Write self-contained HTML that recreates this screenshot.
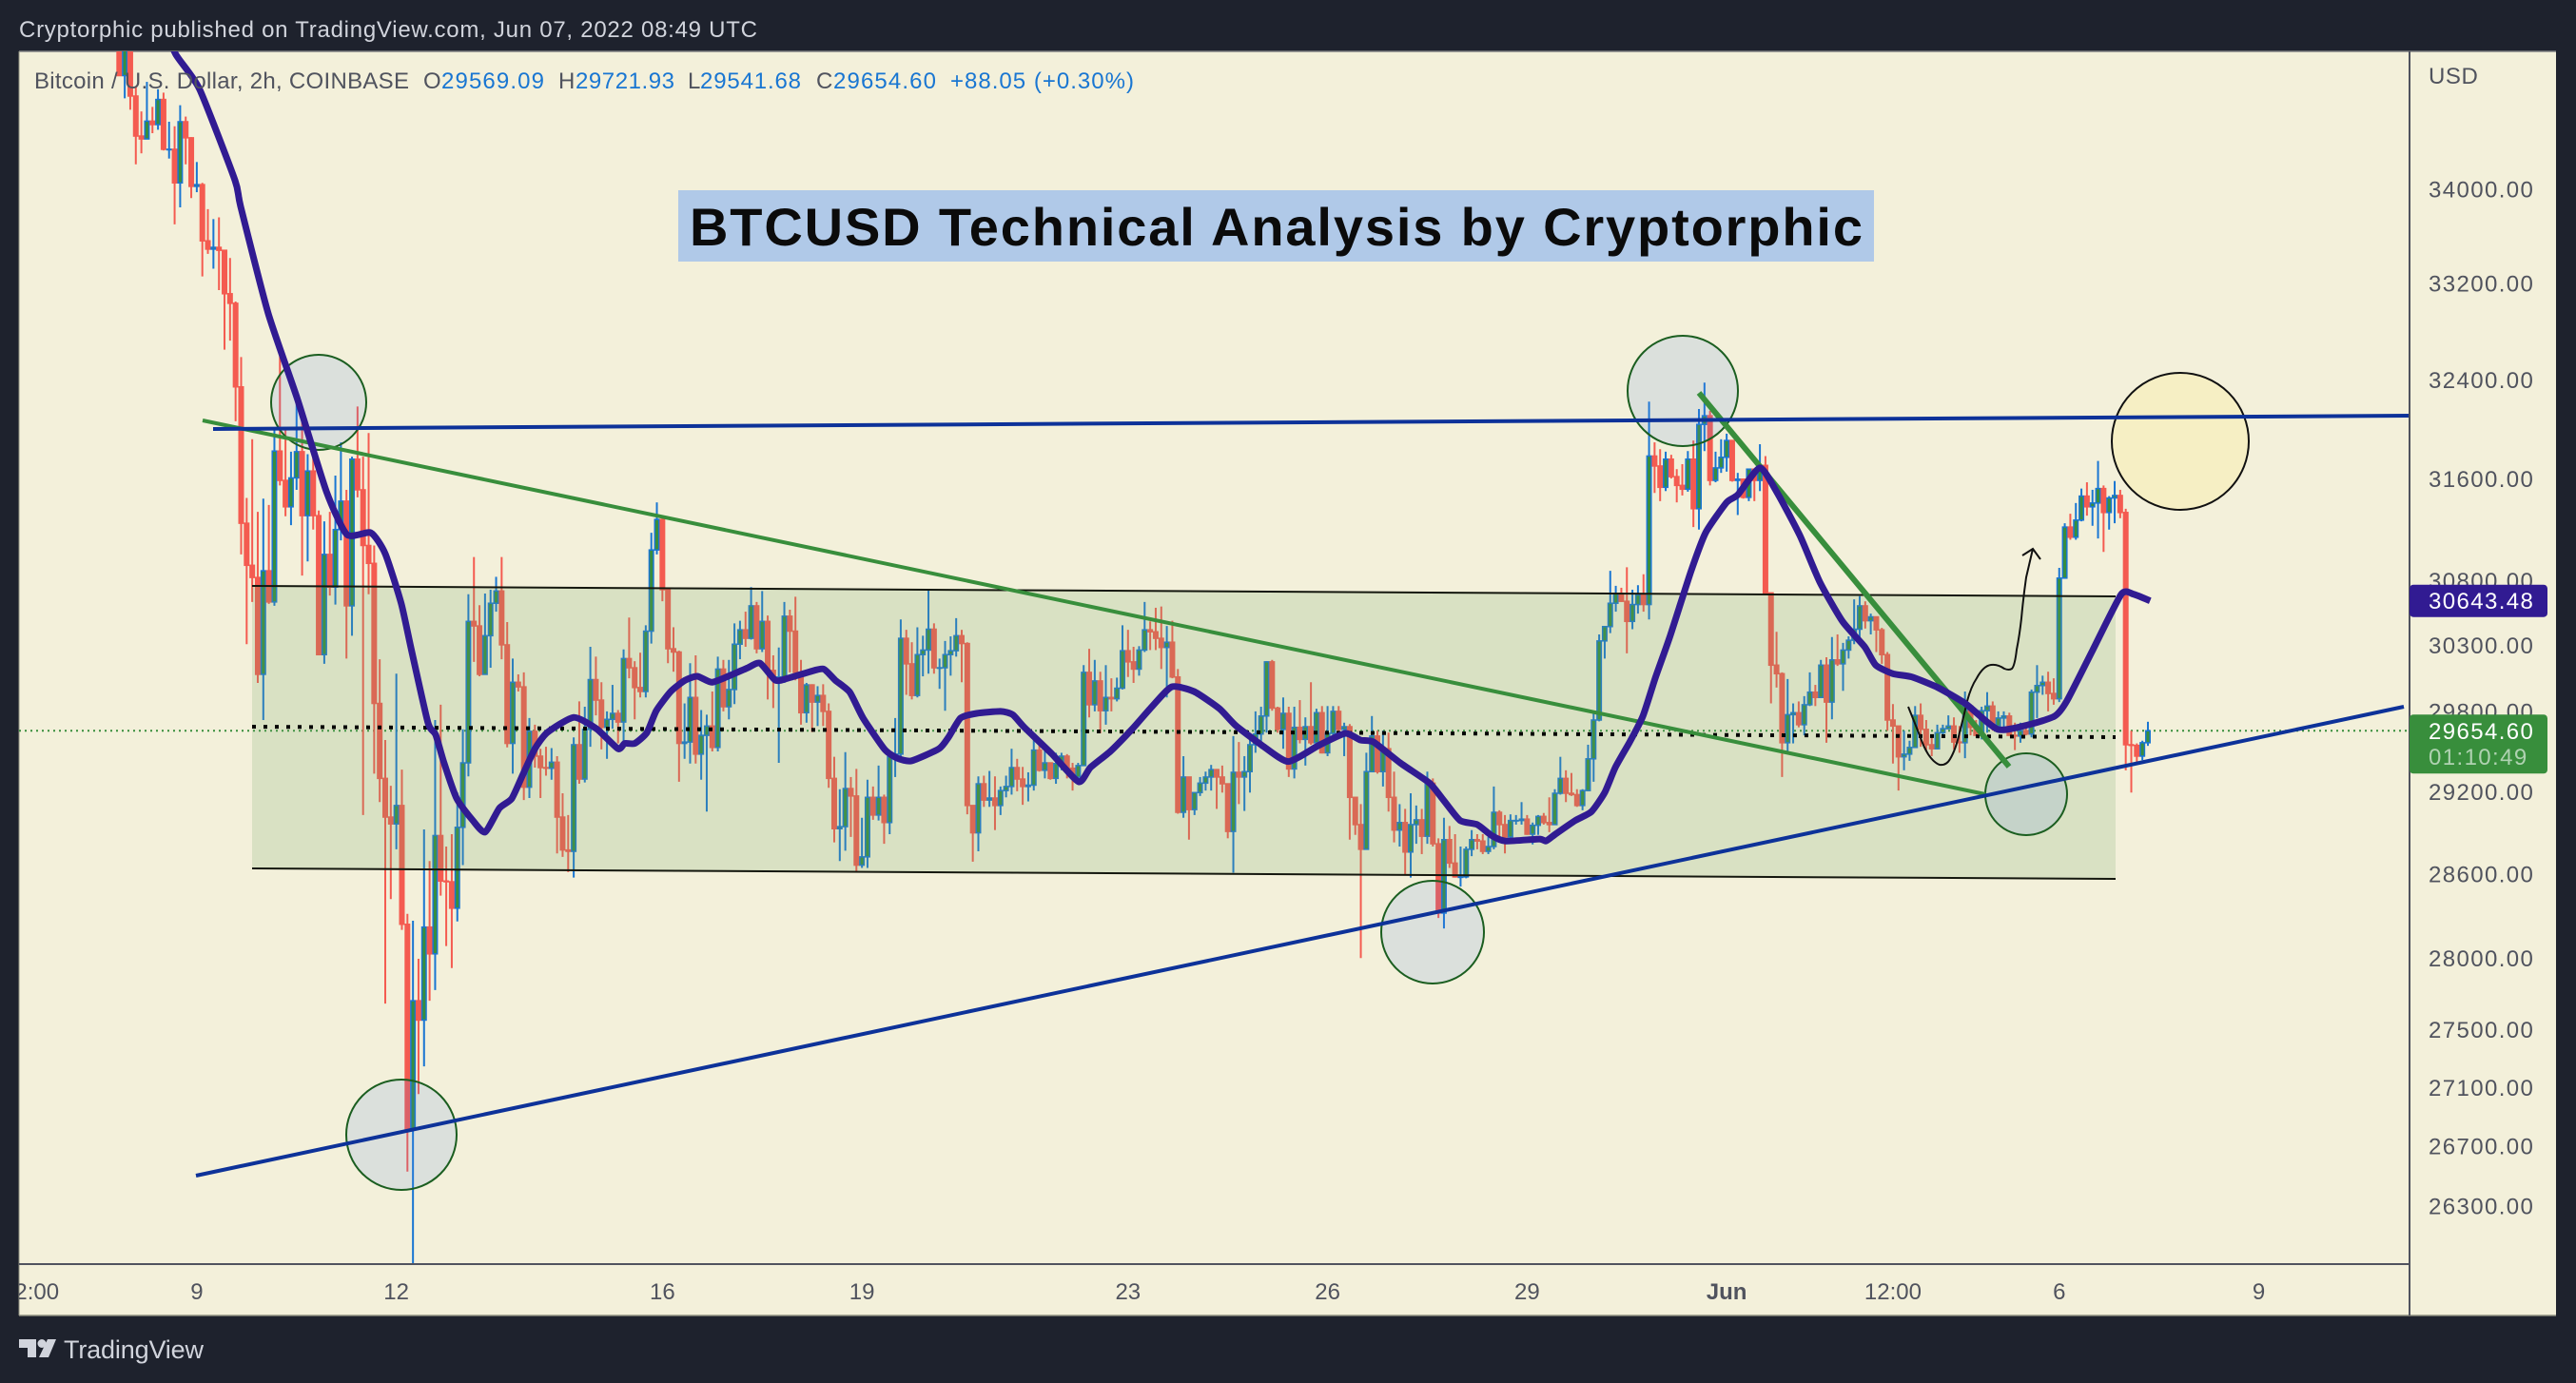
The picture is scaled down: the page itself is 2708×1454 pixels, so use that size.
<!DOCTYPE html>
<html lang="en">
<head>
<meta charset="utf-8">
<title>BTCUSD Technical Analysis by Cryptorphic</title>
<style>
html,body{margin:0;padding:0;background:#1e222d;width:2708px;height:1454px;overflow:hidden}
svg{display:block}
text{font-family:"Liberation Sans",sans-serif}
</style>
</head>
<body>
<svg id="chart" width="2708" height="1454" viewBox="0 0 2708 1454" xmlns="http://www.w3.org/2000/svg">
  <defs>
    <clipPath id="plot-clip"><rect x="20" y="54" width="2513" height="1275"/></clipPath>
    <clipPath id="time-clip"><rect x="20" y="1331" width="2513" height="52"/></clipPath>
  </defs>
  <rect x="0" y="0" width="2708" height="1454" fill="#1e222d"/>
  <rect x="20" y="54" width="2667" height="1329" fill="#f3f0da"/>
  <line x1="20" y1="54" x2="2687" y2="54" stroke="#7c7e80" stroke-width="1.5"/>
  <line x1="20" y1="1383" x2="2687" y2="1383" stroke="#8f9080" stroke-width="1.5"/>
  <line x1="20" y1="54" x2="20" y2="1383" stroke="#8f9080" stroke-width="1"/>

  <g clip-path="url(#plot-clip)">
    <line id="last-price-line" x1="20" x2="2533" stroke="#388e3c" stroke-width="2" stroke-dasharray="2 4"/>
    <g id="candles"></g>
    <circle cx="2292" cy="464" r="72" fill="#f6efc4" stroke="#111" stroke-width="2"/>
    <polygon points="265,616 2224,627 2224,924 265,913" fill="rgba(113,165,103,0.2)"/>
    <line x1="265" y1="616" x2="2224" y2="627" stroke="#14170e" stroke-width="2"/>
    <line x1="265" y1="913" x2="2224" y2="924" stroke="#14170e" stroke-width="2"/>
    <line x1="265" y1="764" x2="2224" y2="775" stroke="#000" stroke-width="4" stroke-dasharray="4 8"/>
    <circle cx="335" cy="423" r="50" fill="rgba(90,133,238,0.15)" stroke="#1b5e20" stroke-width="2"/>
    <circle cx="422" cy="1193" r="58" fill="rgba(90,133,238,0.15)" stroke="#1b5e20" stroke-width="2"/>
    <circle cx="1506" cy="980" r="54" fill="rgba(90,133,238,0.15)" stroke="#1b5e20" stroke-width="2"/>
    <circle cx="1769" cy="411" r="58" fill="rgba(90,133,238,0.15)" stroke="#1b5e20" stroke-width="2"/>
    <circle cx="2130" cy="835" r="43" fill="rgba(90,133,238,0.15)" stroke="#1b5e20" stroke-width="2"/>
    <line x1="213" y1="442" x2="2087" y2="835" stroke="#388e3c" stroke-width="4"/>
    <line x1="1786" y1="413" x2="2112" y2="806" stroke="#388e3c" stroke-width="6"/>
    <line x1="224" y1="451" x2="2533" y2="437" stroke="#0d3299" stroke-width="4"/>
    <line x1="206" y1="1236" x2="2527" y2="743" stroke="#0d3299" stroke-width="4"/>
    <path d="M2006 743 Q2012 758 2018 773 Q2022 785 2027 793 Q2033 802 2039 804 Q2046 805 2050 798 Q2056 788 2060 770 Q2064 755 2068 737 Q2072 722 2078 713 Q2085 700 2093 699 Q2100 698 2107 703 Q2112 705 2115 703 Q2118 700 2120 683 Q2123 668 2125 650 Q2127 628 2130 607 L2137 577" fill="none" stroke="#111" stroke-width="2"/>
    <path d="M2126 584 L2137 577 L2145 588" fill="none" stroke="#111" stroke-width="2"/>
    <path id="ma-line" fill="none" stroke="#311b92" stroke-width="7" stroke-linejoin="round"/>
  </g>

  <rect x="713" y="200" width="1257" height="75" fill="#b0c9e8"/>
  <text x="725" y="258" font-size="56" font-weight="bold" fill="#0b0b0b" textLength="1233" lengthAdjust="spacing">BTCUSD Technical Analysis by Cryptorphic</text>

  <text x="20" y="39" font-size="24" fill="#d1d4dc" textLength="776" lengthAdjust="spacing">Cryptorphic published on TradingView.com, Jun 07, 2022 08:49 UTC</text>

  <g font-size="24">
    <text x="36" y="93" fill="#50535e" textLength="394" lengthAdjust="spacing">Bitcoin / U.S. Dollar, 2h, COINBASE</text>
    <text x="445" y="93" fill="#50535e">O</text>
    <text x="464" y="93" fill="#1976d2" textLength="108" lengthAdjust="spacing">29569.09</text>
    <text x="587" y="93" fill="#50535e">H</text>
    <text x="605" y="93" fill="#1976d2" textLength="104" lengthAdjust="spacing">29721.93</text>
    <text x="723" y="93" fill="#50535e">L</text>
    <text x="736" y="93" fill="#1976d2" textLength="106" lengthAdjust="spacing">29541.68</text>
    <text x="858" y="93" fill="#50535e">C</text>
    <text x="876" y="93" fill="#1976d2" textLength="108" lengthAdjust="spacing">29654.60</text>
    <text x="999" y="93" fill="#1976d2" textLength="193" lengthAdjust="spacing">+88.05 (+0.30%)</text>
  </g>

  <line x1="2533" y1="54" x2="2533" y2="1383" stroke="#50535e" stroke-width="2"/>
  <line x1="20" y1="1329" x2="2533" y2="1329" stroke="#50535e" stroke-width="2"/>
  <text x="2553" y="88" font-size="24" fill="#50535e" letter-spacing="0.6">USD</text>
  <g id="price-ticks" font-size="24" fill="#50535e" letter-spacing="1.4"></g>
  <g id="time-ticks" font-size="24" fill="#50535e" text-anchor="middle" clip-path="url(#time-clip)"></g>

  <rect id="ma-tag" x="2533" width="145" height="34" rx="4" fill="#311b92"/>
  <text id="ma-tag-text" x="2553" font-size="24" fill="#fff" letter-spacing="1.4"></text>
  <rect id="price-tag" x="2533" width="145" height="62" rx="4" fill="#388e3c"/>
  <text id="price-tag-text" x="2553" font-size="24" fill="#fff" letter-spacing="1.4"></text>
  <text id="countdown-text" x="2553" font-size="24" fill="rgba(255,255,255,0.6)" letter-spacing="1.4">01:10:49</text>

  <g fill="#d1d4dc">
    <path d="M20 1408H38V1427H29V1417H20Z"/>
    <circle cx="44" cy="1412.5" r="4.5"/>
    <path d="M50 1408H59L51 1427H41Z"/>
    <text x="67" y="1428" font-size="27" textLength="147" lengthAdjust="spacing">TradingView</text>
  </g>
</svg>

<script>
const firstOpen = 35450;
const closes = [
34990,35410,34810,34460,34435,34590,34560,34780,34345,34345,
34055,34585,34445,34025,34040,33560,33490,33505,33480,33115,
33035,32345,31250,30920,30825,30080,30877,30635,31825,31590,
31380,31610,31820,31310,31665,31310,30230,31005,30750,31200,
31425,30605,31760,31515,31075,30935,29860,29300,29015,28965,
29100,28240,26815,27700,27565,28220,28030,28880,28550,28545,
28355,28940,29415,30485,30450,30080,30375,30625,30720,30305,
29560,30020,29985,29235,29650,29465,29380,29375,29420,29015,
28775,28765,29550,29295,29665,30040,29885,29680,29740,29785,
29720,30200,30130,29980,29950,30410,31040,31280,30730,30275,
30250,29560,29570,29905,29480,29620,29690,29530,30120,29835,
29965,30310,30420,30355,30605,30275,30485,30110,30060,30060,
30525,30410,30095,29790,30000,29870,29920,29800,29300,28930,
28945,29225,29170,28665,28725,29160,29030,29160,28975,29460,
29480,30355,30160,29920,30230,30265,30425,30130,30130,30230,
30260,30375,30315,29100,28900,29260,29140,29155,29100,29210,
29240,29380,29295,29240,29250,29510,29360,29415,29300,29410,
29465,29375,29310,29395,30095,29850,30030,29805,29905,29895,
29975,30260,30175,30120,30265,30420,30405,30355,30285,30325,
30060,29050,29310,29070,29195,29265,29310,29365,29310,29260,
28910,29345,29310,29350,29550,29630,29765,30175,29825,29665,
29785,29370,29680,29590,29685,29565,29790,29490,29635,29800,
29665,29685,29160,28960,28780,29350,29615,29350,29520,29160,
28920,28975,28760,28960,28995,28875,29265,28820,28320,28850,
28680,28580,28580,28780,28850,28840,28765,28800,29050,28960,
28870,28990,28990,29000,28890,28955,29020,28975,28960,29190,
29300,29190,29180,29100,29210,29445,29735,30335,30445,30625,
30700,30640,30485,30615,30690,30615,31785,31705,31535,31760,
31620,31550,31520,31760,31365,32040,32110,31590,31690,31775,
31910,31590,31600,31455,31680,31590,31710,30705,30150,30085,
29565,29775,29790,29700,29850,29945,29905,30150,29870,30190,
30160,30265,30340,30425,30605,30490,30520,30420,30230,29735,
29690,29460,29480,29530,29770,29665,29550,29520,29640,29670,
29690,29570,29565,29840,29680,29620,29805,29840,29690,29750,
29765,29620,29615,29655,29630,29945,29995,30020,29935,29895,
30820,31220,31140,31275,31465,31380,31410,31525,31335,31450,
31470,31335,29550,29545,29465,29565,29654.6];
const highs = [
35600,35500,35200,34895,34675,34935,34715,34870,34840,34585,
34545,34730,34630,34450,34235,34055,33830,33745,33760,33480,
33415,33050,32590,31450,31920,31340,31445,31395,31995,32615,
32010,31820,32240,32110,31800,31780,31350,31265,31340,31628,
31895,31515,31780,32185,31780,31970,31075,30195,29585,29245,
30085,29365,28315,28265,27995,28925,28695,29735,29850,28800,
28890,29195,29665,30695,30985,30610,30700,30730,30830,30985,
30480,30200,30080,30095,29750,29700,29520,29535,29525,29465,
29190,29030,29605,29875,29835,30290,30215,30020,29800,30000,
29810,30270,30515,30180,30245,30455,31175,31415,31300,30730,
30440,30260,29860,30165,30225,29810,29775,29950,30215,30190,
30190,30470,30490,30560,30750,30635,30720,30530,30225,30285,
30635,30575,30675,30190,30015,30005,29990,30005,29860,29460,
29220,29495,29310,29370,29010,29290,29240,29395,29180,29490,
29750,30500,30420,30325,30440,30375,30730,30470,30200,30335,
30370,30510,30420,30325,29100,29315,29320,29355,29315,29240,
29320,29520,29445,29385,29345,29605,29585,29515,29415,29490,
29490,29480,29415,29415,30150,30275,30190,30100,30150,30050,
30055,30455,30420,30290,30295,30635,30485,30590,30600,30450,
30490,30120,29465,29310,29195,29310,29350,29400,29370,29395,
29260,29615,29570,29465,29620,29800,29835,30180,30190,29835,
29905,29835,29835,29885,29755,30020,29820,29840,29840,29840,
29840,29715,29705,29160,29110,29490,29765,29655,29655,29640,
29350,29110,29075,29190,29100,29075,29350,29300,28860,29010,
28950,28890,28800,28800,28920,28890,28890,28870,29240,29065,
29030,29035,29030,29125,29030,28975,29030,29045,29160,29220,
29460,29360,29340,29220,29220,29550,29800,30385,30450,30877,
30760,30745,30905,30730,30765,30850,32225,31895,31840,31820,
31795,31680,31720,31825,31910,32165,32380,32150,31820,31920,
31965,31910,31650,31605,31680,31680,31880,31785,30705,30405,
30095,30045,29860,29875,29915,30095,30000,30190,30210,30365,
30385,30320,30370,30655,30680,30640,30545,30520,30435,30250,
29855,29690,29655,29580,29840,29860,29735,29605,29700,29700,
29770,29755,29690,29950,29840,29735,29835,29945,29875,29800,
29800,29790,29715,29715,29690,29965,30150,30070,30100,30050,
30900,31250,31325,31410,31525,31575,31515,31745,31550,31465,
31585,31515,31365,29655,29560,29580,29721.93];
const lows = [
34990,34790,34690,34215,34310,34435,34485,34515,34335,34265,
33700,33845,34215,33925,33975,33260,33450,33325,33145,32650,
32725,32065,31005,30310,30635,30015,29735,30620,30605,31550,
31305,31235,31515,30840,30950,31200,30230,30160,30685,30615,
31115,30200,30375,31455,29030,30695,29335,29125,27680,28420,
28780,28200,26530,25400,27055,27245,27700,27775,28445,28085,
27930,28260,28665,29315,30175,30065,30095,30130,30560,30195,
29530,29335,29950,29140,29155,29380,29155,29320,29290,28750,
28725,28615,28575,29260,29270,29535,29770,29515,29445,29670,
29560,29520,30050,29740,29905,29905,30315,31005,30640,30165,
30100,29275,29445,29410,29410,29290,29055,29500,29500,29800,
29740,29855,30195,30290,30345,30240,30250,29890,29825,29415,
30015,30095,30035,29700,29715,29645,29690,29690,29230,28830,
28695,28770,28870,28610,28645,28645,28995,28990,28820,28890,
29310,29450,29925,29890,29905,30065,30085,30085,29970,29805,
30070,30215,30020,29035,28690,28765,29090,29090,28920,29030,
29160,29180,29205,29105,29130,29210,29350,29300,29290,29260,
29360,29300,29210,29275,29395,29755,29800,29635,29700,29800,
29875,29965,30060,30015,30070,30250,30265,30265,30120,29905,
30050,29040,29010,28850,29030,29170,29210,29210,29075,29195,
28860,28610,29110,29060,29195,29490,29520,29640,29805,29640,
29520,29310,29300,29560,29395,29550,29550,29485,29465,29590,
29640,29465,28850,28885,28000,28780,29345,29335,29240,29055,
28830,28800,28600,28575,28820,28745,28820,28800,28285,28210,
28645,28575,28510,28570,28730,28780,28745,28745,28780,28870,
28750,28855,28960,28960,28885,28815,28885,28960,28905,28960,
29180,29125,29170,29090,29065,29205,29275,29725,30200,30395,
30560,30635,30240,30425,30545,30560,30500,31490,31425,31505,
31605,31415,31470,31500,31220,31200,31825,31550,31575,31650,
31660,31580,31315,31445,31425,31425,31505,30695,29860,29980,
29310,29495,29560,29680,29620,29840,29840,29905,29565,29740,
30144,29955,30200,30310,30345,30430,30385,30250,30160,29655,
29410,29210,29360,29430,29530,29535,29510,29465,29515,29605,
29665,29515,29490,29450,29620,29620,29590,29640,29655,29680,
29665,29620,29510,29565,29620,29605,29750,29925,29800,29850,
29870,30825,31120,31120,31265,31310,31230,31130,31025,31200,
31250,31290,29360,29195,29410,29435,29541.68];

const maBars = [
7.5,10.2,14.5,20.9,21.9,26.9,32.2,37.4,41.1,45.4,48,50.9,52.7,55.7,57.1,58.6,60.9,63.8,66,68.6,70.8,
72.9,75,77.2,82,86.1,90,91.2,93,95.2,96.9,99.5,102.1,104.3,106.9,110.1,113.4,115.6,118.4,120.6,124.6,
127.1,129.2,131.8,134.2,138.1,140.4,142.9,147.9,149.6,151.8,154.7,159,161.2,163.3,168.3,173.1,175.2,178.8,182.7,186.3,
189.9,193.9,198.5,201.4,206.2,210.9,216.4,221.2,223.9,226.3,231.1,236.4,239,241.9,245,247.6,250.1,256.2,257.4,259.1,
262.7,265.6,268,269.9,272.5,274.9,277.1,279.7,283.6,286.2,290,292,296,299,303.2,306.8,310.9,314.9,316.9,320,
323.4,328.1,333.2,338.9,344.5,349.2,351.4,356.1,361.2,363.4,366.4];
const maValues = [
35500,35180,34870,34075,33855,32950,32240,31500,31160,31175,31010,30620,30270,29715,29625,29415,29150,28990,28905,29080,29150,
29335,29520,29640,29755,29670,29520,29560,29560,29640,29805,29950,30035,30065,30020,30070,30130,30165,30035,30050,30100,
30120,30035,29945,29750,29515,29450,29430,29520,29605,29750,29785,29800,29775,29680,29480,29275,29380,29500,29665,29835,
29985,29950,29820,29695,29545,29425,29545,29635,29585,29570,29415,29265,29135,28990,28960,28880,28840,28855,28840,28890,
28990,29055,29195,29380,29570,29765,30050,30360,30877,31175,31415,31475,31690,31500,31155,30790,30485,30290,30150,30085,
30060,29980,29855,29665,29700,29765,29880,30270,30695,30695,30643.48];

const priceTicks = [34000,33200,32400,31600,30800,30300,29800,29200,28600,28000,27500,27100,26700,26300];
const timeTickLabels = ["12:00","9","12","16","19","23","26","29","Jun","12:00","6","9"];
const timeTickBars = [-16,14,50,98,134,182,218,254,290,320,350,386];
const lastClose = 29654.6;
const lastMa = 30643.48;

const SVGNS = "http://www.w3.org/2000/svg";
function yOf(price){ return 199 + 4163 * Math.log(34000 / price); }
function xOf(bar){ return 125.3 + 5.827 * bar; }

const candleLayer = document.getElementById("candles");
closes.forEach(function(close, i){
  const open = i === 0 ? firstOpen : closes[i - 1];
  const up = close >= open;
  const x = xOf(i);
  const g = document.createElementNS(SVGNS, "g");
  
  
  const wick = document.createElementNS(SVGNS, "line");
  
  
  wick.setAttribute("x1", x);
  wick.setAttribute("x2", x);
  wick.setAttribute("y1", yOf(highs[i]));
  wick.setAttribute("y2", yOf(lows[i]));
  wick.setAttribute("stroke", up ? "#1976d2" : "#f45b50");
  wick.setAttribute("stroke-width", "2");
  g.appendChild(wick);
  const top = yOf(Math.max(open, close));
  const bottom = yOf(Math.min(open, close));
  const body = document.createElementNS(SVGNS, "rect");
  
  
  body.setAttribute("x", x - 2.25);
  body.setAttribute("width", "4.5");
  body.setAttribute("y", top);
  body.setAttribute("height", Math.max(bottom - top, 0.5));
  body.setAttribute("fill", up ? "#388e3c" : "#f45b50");
  body.setAttribute("stroke", up ? "#1976d2" : "#f45b50");
  body.setAttribute("stroke-width", "1.5");
  g.appendChild(body);
  candleLayer.appendChild(g);
});

const maPoints = maValues.map(function(v, i){
  return [xOf(maBars[i]), yOf(v)];
});
let maPath = "M" + maPoints[0][0].toFixed(1) + " " + maPoints[0][1].toFixed(1);
for (let i = 0; i < maPoints.length - 1; i++) {
  const p0 = maPoints[Math.max(i - 1, 0)];
  const p1 = maPoints[i];
  const p2 = maPoints[i + 1];
  const p3 = maPoints[Math.min(i + 2, maPoints.length - 1)];
  const c1x = p1[0] + (p2[0] - p0[0]) * 0.1;
  const c1y = p1[1] + (p2[1] - p0[1]) * 0.1;
  const c2x = p2[0] - (p3[0] - p1[0]) * 0.1;
  const c2y = p2[1] - (p3[1] - p1[1]) * 0.1;
  maPath += " C" + c1x.toFixed(1) + " " + c1y.toFixed(1) + " " + c2x.toFixed(1) + " " + c2y.toFixed(1) + " " + p2[0].toFixed(1) + " " + p2[1].toFixed(1);
}
document.getElementById("ma-line").setAttribute("d", maPath);

const lastY = yOf(lastClose);
const priceLine = document.getElementById("last-price-line");
priceLine.setAttribute("y1", lastY);
priceLine.setAttribute("y2", lastY);

const priceLayer = document.getElementById("price-ticks");
priceTicks.forEach(function(p){
  const t = document.createElementNS(SVGNS, "text");
  
  
  t.setAttribute("x", "2553");
  t.setAttribute("y", yOf(p) + 8.5);
  t.textContent = p.toFixed(2);
  priceLayer.appendChild(t);
});

const timeLayer = document.getElementById("time-ticks");
timeTickLabels.forEach(function(label, i){
  const t = document.createElementNS(SVGNS, "text");
  
  
  t.setAttribute("x", xOf(timeTickBars[i]));
  t.setAttribute("y", "1366");
  if (label === "Jun") t.setAttribute("font-weight", "bold");
  t.textContent = label;
  timeLayer.appendChild(t);
});

const maY = yOf(lastMa);
document.getElementById("ma-tag").setAttribute("y", maY - 17);
const maText = document.getElementById("ma-tag-text");
maText.setAttribute("y", maY + 8.5);
maText.textContent = lastMa.toFixed(2);
document.getElementById("price-tag").setAttribute("y", lastY - 17);
const priceText = document.getElementById("price-tag-text");
priceText.setAttribute("y", lastY + 8.5);
priceText.textContent = lastClose.toFixed(2);
document.getElementById("countdown-text").setAttribute("y", lastY + 35.5);
</script>
</body>
</html>
